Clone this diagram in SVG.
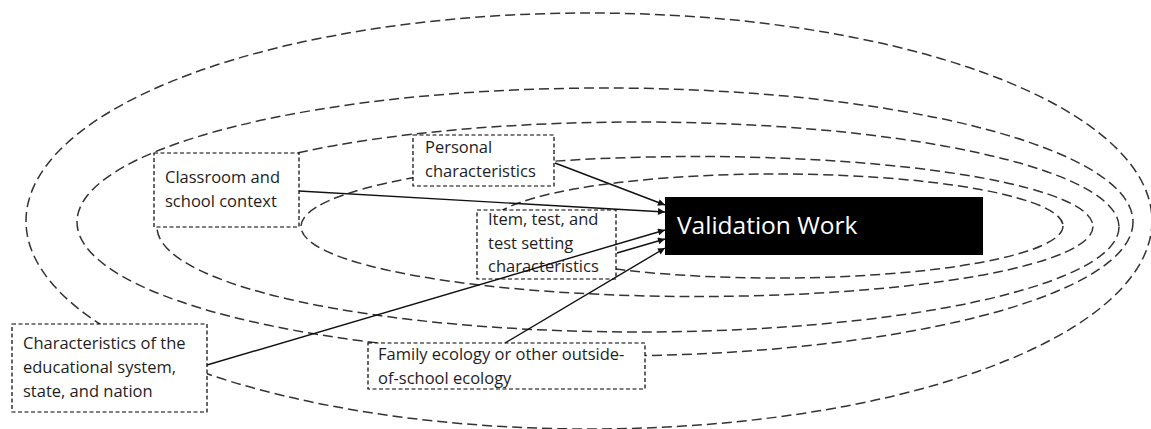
<svg xmlns="http://www.w3.org/2000/svg" width="1151" height="429" viewBox="0 0 1151 429">
<style>
.ring{fill:none;stroke:#333;stroke-width:1.5;stroke-dasharray:10 5}
.box{fill:#fff;stroke:#000;stroke-width:1.2;stroke-dasharray:4 2.5}
.lbl{font-family:"Open Sans","Noto Sans","Liberation Sans",sans-serif;font-size:16.5px;fill:#1e1e1e}
.conn{fill:none;stroke:#111;stroke-width:1.4;marker-end:url(#ah)}
</style>
<defs>
<marker id="ah" viewBox="0 0 10 10" refX="10" refY="5" markerWidth="9" markerHeight="7" markerUnits="userSpaceOnUse" orient="auto">
<path d="M0,0 L10,5 L0,10 z" fill="#111"/>
</marker>
</defs>
<rect width="1151" height="429" fill="#fff"/>
<g id="rings">
<ellipse class="ring" cx="589" cy="221" rx="563" ry="208"/>
<ellipse class="ring" cx="605" cy="222" rx="528" ry="134"/>
<ellipse class="ring" cx="638" cy="227" rx="481" ry="105"/>
<ellipse class="ring" cx="697" cy="226.5" rx="396" ry="70"/>
<ellipse class="ring" cx="776" cy="226" rx="287" ry="52"/>
</g>
<g id="node-classroom">
<rect class="box" x="154" y="153" width="145" height="74"/>
<text class="lbl" x="165" y="183">Classroom and</text>
<text class="lbl" x="165" y="207">school context</text>
</g>
<g id="node-personal">
<rect class="box" x="413" y="135" width="141" height="51"/>
<text class="lbl" x="425" y="153">Personal</text>
<text class="lbl" x="425" y="177">characteristics</text>
</g>
<g id="node-item">
<rect class="box" x="477" y="210" width="139" height="69"/>
<text class="lbl" x="488" y="225">Item, test, and</text>
<text class="lbl" x="488" y="249">test setting</text>
<text class="lbl" x="488" y="272">characteristics</text>
</g>
<g id="node-system">
<rect class="box" x="12" y="324" width="195" height="88"/>
<text class="lbl" x="23" y="349">Characteristics of the</text>
<text class="lbl" x="23" y="373">educational system,</text>
<text class="lbl" x="23" y="397">state, and nation</text>
</g>
<g id="node-family">
<rect class="box" x="368" y="343" width="277" height="46"/>
<text class="lbl" x="378" y="360">Family ecology or other outside-</text>
<text class="lbl" x="378" y="384">of-school ecology</text>
</g>
<g id="connectors">
<line class="conn" x1="555" y1="163" x2="665" y2="205"/>
<line class="conn" x1="299" y1="191" x2="665" y2="212"/>
<line class="conn" x1="207" y1="365" x2="665" y2="230"/>
<line class="conn" x1="617" y1="253" x2="665" y2="239"/>
<line class="conn" x1="505" y1="343" x2="665" y2="248"/>
</g>
<g id="node-validation">
<rect x="665" y="197" width="318" height="58" fill="#000"/>
<text x="677" y="234" font-family="'Open Sans','Noto Sans','Liberation Sans',sans-serif" font-size="24.5" fill="#fff">Validation Work</text>
</g>
</svg>
